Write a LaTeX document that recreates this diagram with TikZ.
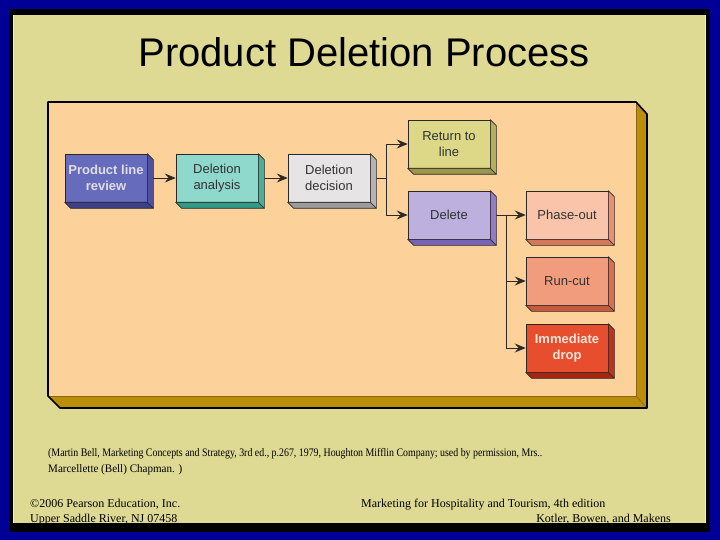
\documentclass[tikz,border=0pt]{standalone}
\usepackage{fontspec}
\setmainfont{Liberation Serif}
\newfontfamily\arial{Liberation Sans}
\usetikzlibrary{arrows.meta,calc}
\definecolor{bluebg}{RGB}{0,0,150}
\definecolor{cream}{RGB}{222,218,148}
\definecolor{peach}{RGB}{253,209,154}
\definecolor{gold}{RGB}{185,142,10}
\definecolor{goldline}{RGB}{140,100,20}
\definecolor{edgecol}{RGB}{45,40,40}
\definecolor{txt}{RGB}{50,50,50}
\definecolor{plrF}{RGB}{102,107,188}\definecolor{plrS}{RGB}{78,82,160}\definecolor{plrB}{RGB}{60,64,138}
\definecolor{daF}{RGB}{143,216,204}\definecolor{daS}{RGB}{75,175,155}\definecolor{daB}{RGB}{45,155,135}
\definecolor{ddF}{RGB}{230,228,228}\definecolor{ddS}{RGB}{180,180,180}\definecolor{ddB}{RGB}{155,155,155}
\definecolor{rtlF}{RGB}{220,216,136}\definecolor{rtlS}{RGB}{180,175,95}\definecolor{rtlB}{RGB}{155,150,75}
\definecolor{delF}{RGB}{190,176,222}\definecolor{delS}{RGB}{145,125,198}\definecolor{delB}{RGB}{120,100,178}
\definecolor{poF}{RGB}{249,196,170}\definecolor{poS}{RGB}{230,145,115}\definecolor{poB}{RGB}{212,120,90}
\definecolor{rcF}{RGB}{242,156,126}\definecolor{rcS}{RGB}{218,110,80}\definecolor{rcB}{RGB}{198,90,60}
\definecolor{idF}{RGB}{230,78,46}\definecolor{idS}{RGB}{188,52,28}\definecolor{idB}{RGB}{162,38,18}
\definecolor{lighttxt}{RGB}{222,222,228}
\definecolor{idtxt}{RGB}{250,228,218}
\begin{document}
\begin{tikzpicture}[x=1pt,y=-1pt,
  stagebox/.style={draw=edgecol, line width=0.6pt, minimum width=82pt, minimum height=48pt,
    inner sep=0pt, align=center, font=\arial\fontsize{13}{16}\selectfont, text=txt},
  boldbox/.style={stagebox, font=\arial\bfseries\fontsize{13}{16}\selectfont},
  link/.style={draw=edgecol, line width=0.8pt},
  arrowlink/.style={link, -{Stealth[length=11pt,width=9pt,inset=4pt]}},
  foot/.style={font=\fontsize{12}{15}\selectfont, inner sep=0pt},
  citefoot/.style={font=\fontsize{11.5}{15}\selectfont, inner sep=0pt}]
\useasboundingbox (0,0) rectangle (720,540);
% background and frame
\fill[bluebg] (0,0) rectangle (720,540);
\fill[black] (9,9) rectangle (710,532);
\fill[cream] (14,15) rectangle (705,523);
\draw[white!85!gray, line width=0.6pt] (13.3,15) -- (13.3,523);
\draw[white!85!gray, line width=0.6pt] (705.7,15) -- (705.7,523);
% title
\node[font=\arial\fontsize{40}{48}\selectfont, text=black] (title) at (364,52) {Product Deletion Process};
% orange panel with gold extrusion
\fill[gold] (636,102) -- (647,114) -- (647,408) -- (60,408) -- (48,396) -- (636,396) -- cycle;
\fill[peach] (48,102) rectangle (636,396);
\draw[goldline, line width=0.8pt] (48,396.5) -- (636,396.5) -- (636,102);
\draw[goldline, line width=0.6pt] (636,396) -- (647,408);
\draw[black, line width=1.6pt, line join=round] (48,102) -- (636,102) -- (647,114) -- (647,408) -- (60,408) -- (48,396) -- cycle;
% stages
\node[boldbox, fill=plrF, text=lighttxt] (plr) at (106,178) {Product line\\review};
\node[stagebox, fill=daF] (da) at (217,178) {Deletion\\analysis};
\node[stagebox, fill=ddF] (dd) at (329,178) {Deletion\\decision};
\node[stagebox, fill=rtlF] (rtl) at (449,144) {Return to\\line};
\node[stagebox, fill=delF] (del) at (449,215) {Delete};
\node[stagebox, fill=poF] (po) at (567,215) {Phase-out};
\node[stagebox, fill=rcF] (rc) at (567,281) {Run-cut};
\node[boldbox, fill=idF, text=idtxt] (id) at (567,348) {Immediate\\drop};
% connectors
\coordinate (j1) at (386,178);
\coordinate (j2) at (506,215);
\draw[arrowlink] (plr.east) -- (da.west);
\draw[arrowlink] (da.east) -- (dd.west);
\draw[link] (dd.east) -- (j1);
\draw[arrowlink] (j1) |- (rtl.west);
\draw[arrowlink] (j1) |- (del.west);
\draw[link] (del.east) -- (j2);
\draw[arrowlink] (j2) -- (po.west);
\draw[arrowlink] (j2) |- (rc.west);
\draw[arrowlink] (j2) |- (id.west);
% 3D extrusions
\foreach \n/\s/\b in {plr/plrS/plrB, da/daS/daB, dd/ddS/ddB, rtl/rtlS/rtlB, del/delS/delB, po/poS/poB, rc/rcS/rcB, id/idS/idB}{
  \filldraw[fill=\s, draw=edgecol, line width=0.6pt, line join=round]
    (\n.north east) -- ($(\n.north east)+(6,6)$) -- ($(\n.south east)+(6,6)$) -- (\n.south east) -- cycle;
  \filldraw[fill=\b, draw=edgecol, line width=0.6pt, line join=round]
    (\n.south west) -- (\n.south east) -- ($(\n.south east)+(6,6)$) -- ($(\n.south west)+(6,6)$) -- cycle;
}
% citation and footer
\node[citefoot, anchor=base west] (cite1) at (48,456) {\scalebox{0.86}[1]{(Martin Bell, Marketing Concepts and Strategy, 3rd ed., p.267, 1979, Houghton Mifflin Company; used by permission, Mrs..}};
\node[citefoot, anchor=base west] (cite2) at (48,472) {\scalebox{0.96}[1]{Marcellette (Bell) Chapman. )}};
\node[foot, anchor=base west] (f1) at (30,507) {©2006 Pearson Education, Inc.};
\node[foot, anchor=base west] (f2) at (30,522) {Upper Saddle River, NJ 07458};
\node[foot, anchor=base west] (f3) at (361,507) {Marketing for Hospitality and Tourism, 4th edition};
\node[foot, anchor=base east] (f4) at (671,522) {Kotler, Bowen, and Makens};
\end{tikzpicture}
\end{document}
